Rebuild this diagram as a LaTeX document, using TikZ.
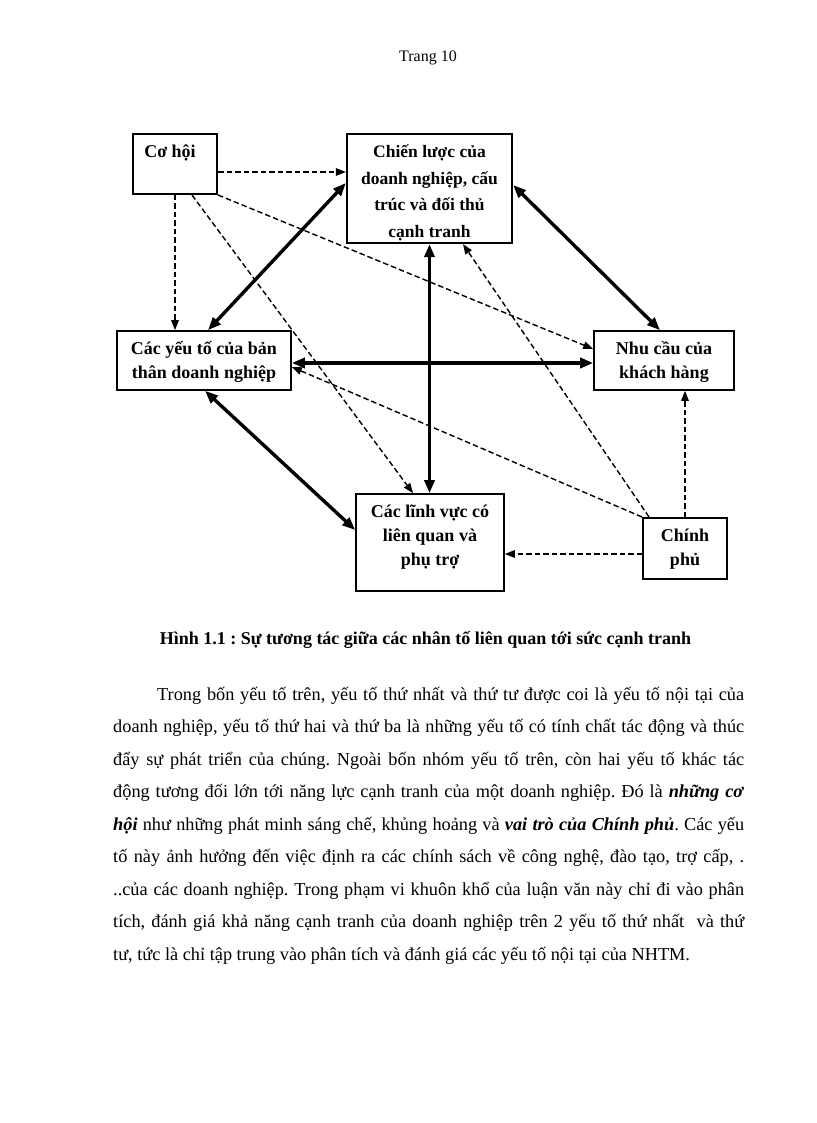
\documentclass[tikz,border=0pt]{standalone}
\usepackage{fontspec}
\setmainfont{Liberation Serif}
\usetikzlibrary{arrows.meta,calc}
\newcommand{\bodyfont}{\fontsize{18.3}{24}\selectfont}
\newcommand{\bi}[1]{\textbf{\textit{#1}}}
\frenchspacing
\begin{document}
\begin{tikzpicture}[x=1pt,y=-1pt,
  box/.style={draw,line width=1.6pt,inner sep=0pt},
  btxt/.style={inner sep=0pt,align=center,font=\bfseries\fontsize{18}{24}\selectfont},
  dsh/.style={dash pattern=on 5.5pt off 3pt,line width=1.4pt,-{Triangle[length=10pt,width=7.5pt]}},
  thk/.style={line width=3.4pt,{Triangle[length=13pt,width=10pt]}-{Triangle[length=13pt,width=10pt]}},
  bline/.style={anchor=base west,inner sep=0pt,font=\bodyfont}]
\useasboundingbox (0,0) rectangle (816,1123);
\fill[white] (0,0) rectangle (816,1123);
\node[anchor=base,inner sep=0pt,font=\fontsize{16}{18}\selectfont] (page) at (428,62) {Trang 10};
% boxes
\node[box,line width=2pt,minimum width=84pt,minimum height=60pt] (cohoi) at (175,164) {};
\node[btxt] (cohoi-t) at (170,153) {Cơ hội};
\node[box,line width=2.2pt,minimum width=165pt,minimum height=109pt] (chienluoc) at (429.5,188.5) {};
\node[btxt,font=\bfseries\fontsize{17.5}{26.5}\selectfont] (chienluoc-t) at (429.5,193) {Chiến lược của\\doanh nghiệp, cấu\\trúc và đối thủ\\cạnh tranh};
\node[box,minimum width=174pt,minimum height=59pt] (yeuto) at (204,360.5) {};
\node[btxt] (yeuto-t) at (204,362) {Các yếu tố của bản\\thân doanh nghiệp};
\node[box,minimum width=140pt,minimum height=59pt] (nhucau) at (664,360.5) {};
\node[btxt] (nhucau-t) at (664,362) {Nhu cầu của\\khách hàng};
\node[box,minimum width=148pt,minimum height=97pt] (linhvuc) at (430,542.5) {};
\node[btxt] (linhvuc-t) at (430,537.5) {Các lĩnh vực có\\liên quan và\\phụ trợ};
\node[box,line width=2pt,minimum width=84pt,minimum height=61pt] (chinhphu) at (685,548.5) {};
\node[btxt] (chinhphu-t) at (685,549.5) {Chính\\phủ};
% dashed connectors
\draw[dsh] ([yshift=-8pt]cohoi.east) -- ([yshift=-8pt]cohoi.east -| chienluoc.west);
\draw[dsh] (cohoi.south) -- (cohoi.south |- yeuto.north);
\draw[dsh] (cohoi.south east) -- ([yshift=11.5pt]nhucau.west);
\draw[dsh] ([xshift=17pt]cohoi.south) -- ([xshift=-17pt]linhvuc.north);
\draw[dsh] ([yshift=-5.5pt]chinhphu.west) -- ([yshift=-5.5pt]chinhphu.west -| linhvuc.east);
\draw[dsh] (chinhphu.north) -- (chinhphu.north |- nhucau.south);
\draw[dsh] (chinhphu.north west) -- ([yshift=-6.5pt]yeuto.east);
\draw[dsh] ([xshift=7pt]chinhphu.north west) -- ([xshift=33.5pt]chienluoc.south);
% thick double connectors
\draw[thk] ([xshift=4pt]yeuto.north) -- ([yshift=5.5pt]chienluoc.west);
\draw[thk] ([yshift=3.5pt]chienluoc.east) -- ([xshift=-4pt]nhucau.north);
\draw[thk] ([yshift=-2.5pt]yeuto.east) -- ([yshift=-2.5pt]yeuto.east -| nhucau.west);
\draw[thk] (chienluoc.south) -- (chienluoc.south |- linhvuc.north);
\draw[thk] ([xshift=1pt]yeuto.south) -- ([yshift=12.5pt]linhvuc.west);
% caption
\node[anchor=base,inner sep=0pt,font=\bfseries\fontsize{18}{20}\selectfont] (cap) at (425.5,644) {Hình 1.1 : Sự tương tác giữa các nhân tố liên quan tới sức cạnh tranh};
% body
\node[bline] (l1) at (157,700) {\makebox[587pt][s]{Trong bốn yếu tố trên, yếu tố thứ nhất và thứ tư được coi là yếu tố nội tại của}};
\node[bline] (l2) at (113,732.5) {\makebox[631pt][s]{doanh nghiệp, yếu tố thứ hai và thứ ba là những yếu tố có tính chất tác động và thúc}};
\node[bline] (l3) at (113,765) {\makebox[631pt][s]{đẩy sự phát triển của chúng. Ngoài bốn nhóm yếu tố trên, còn hai yếu tố khác tác}};
\node[bline] (l4) at (113,797.5) {\makebox[631pt][s]{động tương đối lớn tới năng lực cạnh tranh của một doanh nghiệp. Đó là \bi{những cơ}}};
\node[bline] (l5) at (113,830) {\makebox[631pt][s]{\bi{hội} như những phát minh sáng chế, khủng hoảng và \bi{vai trò của Chính phủ}. Các yếu}};
\node[bline] (l6) at (113,862.5) {\makebox[631pt][s]{tố này ảnh hưởng đến việc định ra các chính sách về công nghệ, đào tạo, trợ cấp, .}};
\node[bline] (l7) at (113,895) {\makebox[631pt][s]{..của các doanh nghiệp. Trong phạm vi khuôn khổ của luận văn này chỉ đi vào phân}};
\node[bline] (l8) at (113,927.5) {\makebox[631pt][s]{tích, đánh giá khả năng cạnh tranh của doanh nghiệp trên 2 yếu tố thứ nhất \ và thứ}};
\node[bline] (l9) at (113,960) {tư, tức là chỉ tập trung vào phân tích và đánh giá các yếu tố nội tại của NHTM.};
\end{tikzpicture}
\end{document}
